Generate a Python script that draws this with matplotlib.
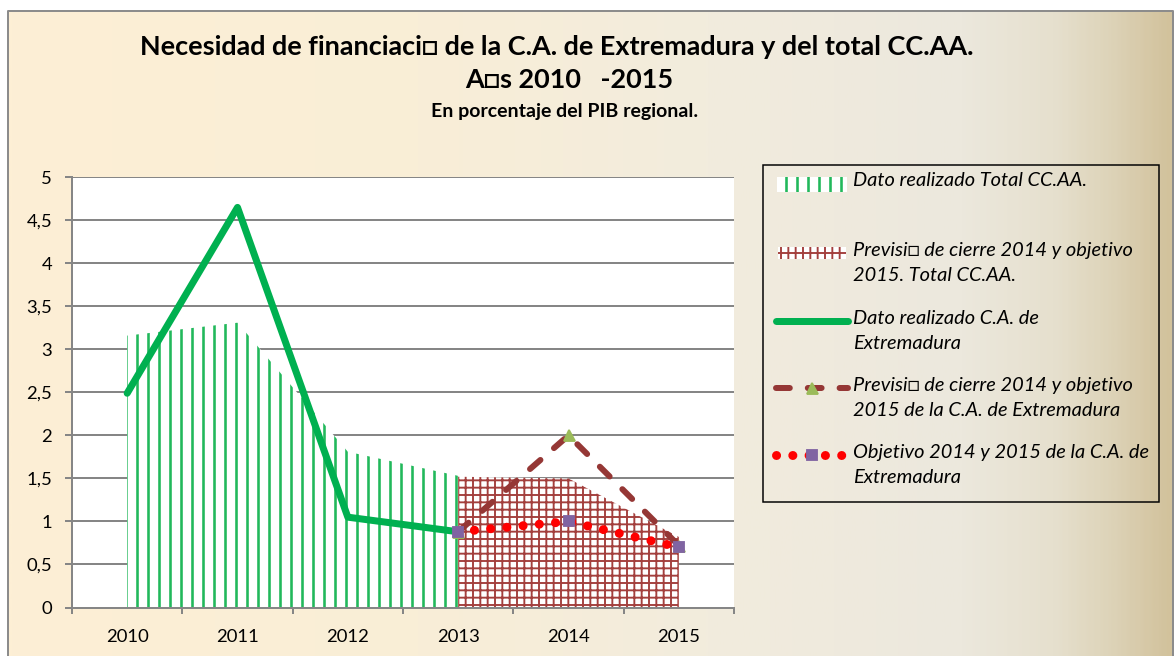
import numpy as np
import matplotlib
matplotlib.use("Agg")
import matplotlib.pyplot as plt
from matplotlib.colors import LinearSegmentedColormap
from matplotlib.lines import Line2D
from matplotlib.patches import Rectangle

# Datos (% del PIB regional)
years = ["2010", "2011", "2012", "2013", "2014", "2015"]
total_realizado = [3.16, 3.31, 1.81, 1.53, np.nan, np.nan]
total_prevision = [np.nan, np.nan, np.nan, 1.52, 1.50, 0.82]
extremadura_realizado = [2.49, 4.65, 1.05, 0.88, np.nan, np.nan]
extremadura_prevision = [np.nan, np.nan, np.nan, 0.88, 2.00, 0.72]
extremadura_objetivo = [np.nan, np.nan, np.nan, 0.88, 1.00, 0.70]
yticks = [0, 0.5, 1, 1.5, 2, 2.5, 3, 3.5, 4, 4.5, 5]

labels = [
    "Dato realizado Total CC.AA.",
    "Previsi\u25a1 de cierre 2014 y objetivo\n2015. Total CC.AA.",
    "Dato realizado C.A. de\nExtremadura",
    "Previsi\u25a1 de cierre 2014 y objetivo\n2015 de la C.A. de Extremadura",
    "Objetivo 2014 y 2015 de la C.A. de\nExtremadura",
]

title1 = "Necesidad de financiaci\u25a1 de la C.A. de Extremadura y del total CC.AA."
title2 = "A\u25a1s 2010   -2015"
subtitle = "En porcentaje del PIB regional."

DPI = 132
W, H = 1175, 656


def pt(px):
    return px * 72.0 / DPI


fonts = ["Lato", "DejaVu Sans"]
plt.rcParams["font.family"] = fonts

GREEN_LINE = "#00B050"
GREEN_HATCH = "#22B85B"
RED_HATCH = "#A33F3D"
BROWN = "#953735"
RED = "#FF0000"
PURPLE = "#8064A2"
OLIVE = "#9BBB59"
GRID = "#868686"

fig = plt.figure(figsize=(W / DPI, H / DPI), dpi=DPI)
fig.patch.set_facecolor("white")

# fondo degradado
bg = fig.add_axes([0, 0, 1, 1], zorder=-10)
bg.set_xlim(0, W)
bg.set_ylim(H, 0)
bg.axis("off")
cmap = LinearSegmentedColormap.from_list("bg", [
    (0.0, "#FDEFD5"), (0.35, "#F9EED7"), (0.6, "#F2ECDD"),
    (0.82, "#ECE8DD"), (0.9, "#E6E0CE"), (0.95, "#DDD3B8"), (1.0, "#D2C29C")])
grad = np.linspace(0, 1, 400).reshape(1, -1)
bg.imshow(grad, cmap=cmap, aspect="auto", extent=(8, 1173, H, 11))
bg.plot([8, 8, 1173, 1173], [H, 11, 11, H], color="#8C8C8C", lw=pt(2))

# área del gráfico
ax = fig.add_axes([72 / W, (H - 607.5) / H, (734 - 72) / W, (607.5 - 177.3) / H])
ax.set_facecolor("white")
x = np.arange(len(years))

plt.rcParams["hatch.linewidth"] = pt(2.6)
ax.fill_between(x, 0, total_realizado, facecolor="white", edgecolor=GREEN_HATCH,
                hatch="||", linewidth=0, zorder=2)
plt.rcParams["hatch.linewidth"] = pt(1.9)
ax.fill_between(x, 0, total_prevision, facecolor="white", edgecolor=RED_HATCH,
                hatch="+++", linewidth=0, zorder=2)

ax.plot(x, extremadura_realizado, color=GREEN_LINE, lw=pt(7),
        solid_capstyle="round", solid_joinstyle="round", zorder=4)
ax.plot(x, extremadura_prevision, color=BROWN, lw=pt(6), dashes=(2.3, 3.0),
        dash_capstyle="round", marker="^", markersize=pt(11), markerfacecolor=OLIVE,
        markeredgecolor=OLIVE, zorder=5)
ax.plot(x, extremadura_objetivo, color=RED, lw=pt(9), dashes=(0.01, 1.8),
        dash_capstyle="round", marker="s", markersize=pt(10), markerfacecolor=PURPLE,
        markeredgecolor=PURPLE, zorder=6)

ax.set_xlim(-0.5, len(years) - 0.5)
ax.set_ylim(0, 5)
ax.set_xticks(x)
ax.set_xticklabels(years)
ax.set_xticks(np.arange(-0.5, len(years)), minor=True)
ax.set_yticks(yticks)
ax.set_yticklabels([f"{v:g}".replace(".", ",") for v in yticks])
ax.tick_params(axis="x", which="major", length=0, pad=pt(21), labelsize=pt(18.5))
ax.tick_params(axis="x", which="minor", length=pt(6), width=pt(2), color=GRID)
ax.tick_params(axis="y", length=pt(7), width=pt(2), color=GRID, pad=pt(13),
               labelsize=pt(18.5))
ax.grid(axis="y", color=GRID, lw=pt(2), zorder=0)
ax.set_axisbelow(True)
for s in ["top", "right"]:
    ax.spines[s].set_visible(False)
for s in ["left", "bottom"]:
    ax.spines[s].set_color(GRID)
    ax.spines[s].set_linewidth(pt(2))

# títulos
fig.text(557 / W, 1 - 47 / H, title1, ha="center", va="center", fontsize=pt(27),
         fontweight="bold")
fig.text(569 / W, 1 - 80 / H, title2, ha="center", va="center", fontsize=pt(27),
         fontweight="bold")
fig.text(565 / W, 1 - 112 / H, subtitle, ha="center", va="center", fontsize=pt(19.5),
         fontweight="bold")

# leyenda
lg = fig.add_axes([0, 0, 1, 1], zorder=10)
lg.set_xlim(0, W)
lg.set_ylim(H, 0)
lg.axis("off")
lg.patch.set_alpha(0)
lg.add_patch(Rectangle((763, 165), 396, 337, facecolor="none", edgecolor="black",
                       lw=pt(1.5)))
plt.rcParams["hatch.linewidth"] = pt(2.6)
lg.add_patch(Rectangle((777, 177), 70, 15, facecolor="white", edgecolor=GREEN_HATCH,
                       hatch="||", lw=0))
plt.rcParams["hatch.linewidth"] = pt(1.9)
lg.add_patch(Rectangle((778, 247), 68, 12, facecolor="white", edgecolor=RED_HATCH,
                       hatch="+++", lw=0))
lg.add_line(Line2D([776, 848], [321, 321], color=GREEN_LINE, lw=pt(7),
                   solid_capstyle="round"))
lg.add_line(Line2D([776, 848], [388, 388], color=BROWN, lw=pt(6), dashes=(2.3, 3.0),
                   dash_capstyle="round"))
lg.add_line(Line2D([812], [388], marker="^", markersize=pt(11), color=OLIVE, lw=0))
lg.add_line(Line2D([776, 848], [455, 455], color=RED, lw=pt(9), dashes=(0.01, 1.8),
                   dash_capstyle="round"))
lg.add_line(Line2D([812], [455], marker="s", markersize=pt(10), color=PURPLE, lw=0))

label_y = [183, 253, 321, 388, 455]
for ly, lab in zip(label_y, labels):
    lg.text(853, ly - 11, lab, ha="left", va="top", fontsize=pt(20),
            fontstyle="italic", linespacing=1.58)

fig.savefig("out.png", dpi=DPI)
